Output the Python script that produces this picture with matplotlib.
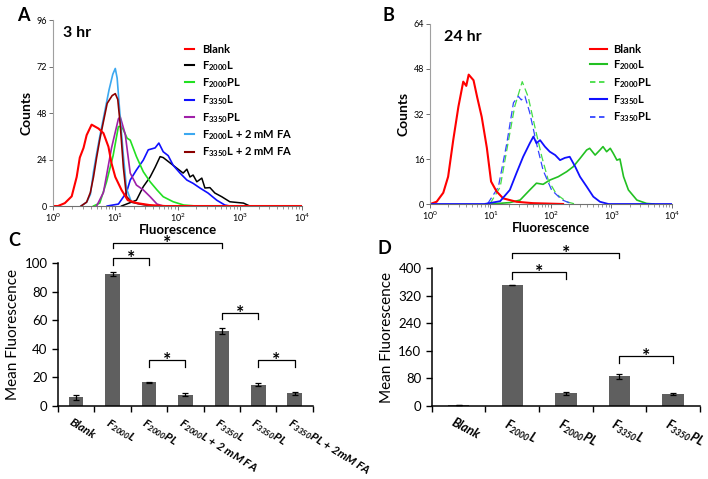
import numpy as np
import matplotlib.pyplot as plt
from matplotlib.lines import Line2D

plt.rcParams['font.family'] = ['Lato', 'DejaVu Sans']
plt.rcParams['mathtext.fontset'] = 'custom'
plt.rcParams['mathtext.rm'] = 'Lato'
plt.rcParams['mathtext.bf'] = 'Lato:bold'
plt.rcParams['mathtext.it'] = 'Lato:italic'
plt.rcParams['mathtext.bfit'] = 'Lato:italic:bold'

# ----------------------------
# Panel A data (3 hr), log10 fluorescence vs counts
# ----------------------------
a_blank_lx = [0, 0.08, 0.19, 0.30, 0.38, 0.43, 0.49, 0.54, 0.62, 0.73, 0.81, 0.89, 0.94, 1.00, 1.10, 1.20, 1.35, 1.55, 1.80, 4.0]
a_blank_y = [0, 0, 1.5, 5, 15, 25, 30, 36.6, 42, 40, 37.6, 30.6, 22, 15, 8.3, 3, 1.5, 0.5, 0, 0]

a_f2000l_lx = [1.10, 1.34, 1.45, 1.56, 1.64, 1.72, 1.77, 1.85, 1.93, 2.01, 2.09, 2.15, 2.20, 2.25, 2.31, 2.39, 2.44,
               2.52, 2.60, 2.71, 2.84, 3.06, 3.16]
a_f2000l_y = [0, 3, 10, 15, 20, 25.5, 25, 23, 21, 19, 17, 19, 15, 16, 12.5, 14.4, 9.3, 9.5, 6.7, 4.8, 2.2, 1.5, 0]

a_f2000pl_lx = [0.65, 0.75, 0.86, 0.965, 1.05, 1.08, 1.12, 1.19, 1.24, 1.34, 1.45, 1.56, 1.67, 1.77, 1.93, 2.10, 2.30]
a_f2000pl_y = [0, 1.5, 12.5, 26, 41, 41, 40, 35, 34, 25.5, 17.7, 12.5, 8.3, 4.8, 2.2, 0.5, 0]

a_f3350l_lx = [0.87, 1.05, 1.18, 1.24, 1.34, 1.45, 1.53, 1.64, 1.70, 1.77, 1.85, 1.93, 2.04, 2.15, 2.25, 2.36, 2.49,
               2.63, 2.76, 2.84]
a_f3350l_y = [0, 1, 7, 13.4, 18.6, 23.7, 29, 30, 32.5, 28, 26, 21, 17, 13.4, 11.7, 9.3, 6.7, 3, 0.5, 0]

a_f3350pl_lx = [0.70, 0.81, 0.94, 1.05, 1.08, 1.16, 1.24, 1.34, 1.45, 1.56, 1.67, 1.77]
a_f3350pl_y = [0, 7, 30, 45, 46, 37, 17, 10.8, 8.3, 4.8, 1, 0]

a_f2000l_fa_lx = [0.45, 0.54, 0.60, 0.65, 0.70, 0.755, 0.82, 0.90, 0.96, 1.00, 1.03, 1.076, 1.13, 1.18, 1.26, 1.40, 1.60]
a_f2000l_fa_y = [0, 2, 6, 17.7, 27, 36.6, 47, 60, 68, 71, 66, 47, 26, 9, 2, 1, 0]

a_f3350l_fa_lx = [0.45, 0.54, 0.60, 0.65, 0.70, 0.755, 0.87, 0.95, 1.00, 1.04, 1.08, 1.13, 1.18, 1.26, 1.40, 1.60]
a_f3350l_fa_y = [0, 2, 7, 15, 25, 35, 53, 57, 58, 55, 42, 20, 5, 2, 1, 0]

# ----------------------------
# Panel B data (24 hr)
# ----------------------------
b_blank_lx = [0, 0.11, 0.22, 0.30, 0.385, 0.47, 0.55, 0.60, 0.64, 0.72, 0.78, 0.855, 0.94, 1.01, 1.10, 1.21, 1.43, 1.7, 2.2]
b_blank_y = [0, 0.8, 4, 9.7, 22.8, 34.6, 43.5, 42, 46, 44, 38, 31, 20, 8, 4.5, 2, 0.8, 0.3, 0]

b_f2000l_lx = [1.0, 1.32, 1.49, 1.65, 1.76, 1.87, 1.98, 2.12, 2.26, 2.37, 2.48, 2.59, 2.64, 2.73, 2.81, 2.86, 2.92,
               2.98, 3.03, 3.09, 3.14, 3.20, 3.28, 3.42, 3.58, 3.70]
b_f2000l_y = [0, 0.5, 1.4, 5, 7.4, 7, 8.5, 9.7, 11.5, 13.3, 16.2, 19.2, 19.8, 17.4, 19.2, 20.4, 18.6,
              19.8, 18, 15.6, 16, 9.7, 5, 1.4, 0.2, 0]

b_f2000pl_lx = [0.99, 1.16, 1.29, 1.40, 1.525, 1.625, 1.735, 1.85, 1.955, 2.09, 2.26, 2.4]
b_f2000pl_y = [0, 6, 21.6, 34.6, 43.5, 38, 27.3, 16.7, 8.5, 3.5, 0.8, 0]

b_f3350l_lx = [0, 0.9, 1.16, 1.32, 1.43, 1.54, 1.65, 1.71, 1.76, 1.82, 1.90, 1.98, 2.07, 2.15, 2.23, 2.31, 2.40,
               2.48, 2.59, 2.70, 2.81, 2.95, 4.0]
b_f3350l_y = [0, 0, 1, 5, 11, 16.8, 21.6, 24, 21.6, 22.7, 20.4, 18.6, 17.4, 15.6, 16.4, 16.8, 13.3,
              9.7, 6.2, 2.6, 0.8, 0, 0]

b_f3350pl_lx = [0.95, 1.13, 1.27, 1.38, 1.46, 1.51, 1.57, 1.65, 1.76, 1.87, 2.01, 2.18, 2.35]
b_f3350pl_y = [0, 6, 21.6, 36, 38.3, 37, 38.3, 32.4, 21.6, 12, 5, 1.5, 0]

# ----------------------------
# Panel C / D bar data
# ----------------------------
c_labels = ['Blank', r'F$_{\mathbfit{2000}}$L', r'F$_{\mathbfit{2000}}$PL', r'F$_{\mathbfit{2000}}$L + 2 mM FA',
            r'F$_{\mathbfit{3350}}$L', r'F$_{\mathbfit{3350}}$PL', r'F$_{\mathbfit{3350}}$PL + 2mM FA']
c_means = [6, 92.5, 16.5, 8, 52.5, 14.8, 8.8]
c_err = [1.5, 1.5, 0.5, 1.0, 1.8, 1.0, 1.0]

d_labels = ['Blank', r'F$_{\mathbfit{2000}}$L', r'F$_{\mathbfit{2000}}$PL', r'F$_{\mathbfit{3350}}$L', r'F$_{\mathbfit{3350}}$PL']
d_means = [2, 350, 37, 86, 35]
d_err = [0.5, 0, 4, 8, 2]


def hist_axes(ax, ymax, step):
    ax.set_xscale('log')
    ax.set_xlim(1, 1e4)
    ax.set_ylim(0, ymax)
    ax.set_yticks(np.arange(0, ymax + 1, step))
    for s in ['top', 'right']:
        ax.spines[s].set_visible(False)
    ax.spines['left'].set_color('#a0a0a0')
    ax.spines['bottom'].set_color('#707070')
    ax.tick_params(axis='both', which='major', labelsize=6.5, length=3, width=0.7, pad=1, color='#707070')
    ax.tick_params(axis='x', which='minor', length=2, width=0.5, color='#707070')
    ax.set_xlabel('Fluorescence', fontsize=9.5, fontweight='bold', labelpad=0)
    ax.set_ylabel('Counts', fontsize=10, fontweight='bold', labelpad=3)


def plot_log(ax, lx, y, **kw):
    ax.plot(10 ** np.array(lx), y, **kw)


def bracket(ax, x1, x2, ytop, yleg):
    ax.plot([x1, x1, x2, x2], [yleg, ytop, ytop, yleg], color='black', lw=0.9, clip_on=False)
    ax.annotate('*', xy=((x1 + x2) / 2, ytop), xytext=(0, -4.5), textcoords='offset points',
                ha='center', va='baseline', fontsize=14, fontweight='bold', annotation_clip=False)


def bar_axes(ax, labels, means, err, ymax, step, rot, fs):
    n = len(labels)
    x = np.arange(n)
    ax.bar(x, means, width=0.4, color='#5f5f5f', zorder=2)
    ax.errorbar(x, means, yerr=err, fmt='none', ecolor='black', elinewidth=0.9, capsize=2.5, capthick=0.9, zorder=3)
    ax.set_xlim(-0.5, n - 0.5)
    ax.set_ylim(0, ymax)
    ax.set_yticks(np.arange(0, ymax + 1, step))
    ax.set_xticks(np.arange(-0.5, n, 1))
    ax.set_xticklabels([])
    for s in ['top', 'right']:
        ax.spines[s].set_visible(False)
    ax.spines['left'].set_linewidth(1.1)
    ax.spines['bottom'].set_linewidth(1.1)
    ax.tick_params(axis='both', direction='out', length=4, width=1, labelsize=9.5)
    ax.set_ylabel('Mean Fluorescence', fontsize=11, labelpad=3)
    for i, lab in enumerate(labels):
        ax.text(i - 0.07, -0.075, lab, transform=ax.get_xaxis_transform(), rotation=rot,
                rotation_mode='anchor', ha='left', va='top', fontsize=fs,
                fontweight='bold', fontstyle='italic')


fig = plt.figure(figsize=(7.08, 4.79), dpi=100)

# ----------------------------
# Panel A
# ----------------------------
axA = fig.add_axes([0.0749, 0.5699, 0.3517, 0.3883])
plot_log(axA, a_f2000l_lx, a_f2000l_y, color='black', lw=1.1)
plot_log(axA, a_f3350l_lx, a_f3350l_y, color='#1010ff', lw=1.2)
plot_log(axA, a_f2000pl_lx, a_f2000pl_y, color='#22e022', lw=1.2)
plot_log(axA, a_f3350pl_lx, a_f3350pl_y, color='#a020a8', lw=1.2)
plot_log(axA, a_f2000l_fa_lx, a_f2000l_fa_y, color='#3ca8f0', lw=1.2)
plot_log(axA, a_f3350l_fa_lx, a_f3350l_fa_y, color='#8b0000', lw=1.2)
plot_log(axA, a_blank_lx, a_blank_y, color='#ff0000', lw=1.5)
hist_axes(axA, 96, 24)
axA.text(0.04, 0.93, '3 hr', transform=axA.transAxes, fontsize=11.5, fontweight='bold', va='center')

a_handles = [Line2D([], [], color=c, lw=1.5) for c in
             ['#ff0000', 'black', '#22e022', '#1010ff', '#a020a8', '#3ca8f0', '#8b0000']]
a_names = ['Blank', r'F$_{\mathbf{2000}}$L', r'F$_{\mathbf{2000}}$PL', r'F$_{\mathbf{3350}}$L',
           r'F$_{\mathbf{3350}}$PL', r'F$_{\mathbf{2000}}$L + 2 mM FA', r'F$_{\mathbf{3350}}$L + 2 mM FA']
axA.legend(a_handles, a_names, loc='upper left', bbox_to_anchor=(0.53, 0.87), frameon=False,
           prop={'size': 8, 'weight': 'bold'}, handlelength=0.8, handletextpad=0.7,
           labelspacing=0.32, borderaxespad=0, borderpad=0)

# ----------------------------
# Panel B
# ----------------------------
axB = fig.add_axes([0.6073, 0.5741, 0.3418, 0.3758])
plot_log(axB, b_f2000l_lx, b_f2000l_y, color='#22c022', lw=1.2)
plot_log(axB, b_f2000pl_lx, b_f2000pl_y, color='#44dd44', lw=0.9, ls=(0, (6, 3)))
plot_log(axB, b_f3350pl_lx, b_f3350pl_y, color='#3344ff', lw=0.9, ls=(0, (6, 3)))
plot_log(axB, b_blank_lx, b_blank_y, color='#ff0000', lw=1.5)
plot_log(axB, b_f3350l_lx, b_f3350l_y, color='#1010ff', lw=1.3)
hist_axes(axB, 64, 16)
axB.text(0.06, 0.93, '24 hr', transform=axB.transAxes, fontsize=11.5, fontweight='bold', va='center')

b_handles = [Line2D([], [], color='#ff0000', lw=1.5), Line2D([], [], color='#22c022', lw=1.5),
             Line2D([], [], color='#44dd44', lw=1.3, ls=(0, (3, 2))),
             Line2D([], [], color='#1010ff', lw=1.5), Line2D([], [], color='#3344ff', lw=1.3, ls=(0, (3, 2)))]
b_names = ['Blank', r'F$_{\mathbf{2000}}$L', r'F$_{\mathbf{2000}}$PL', r'F$_{\mathbf{3350}}$L', r'F$_{\mathbf{3350}}$PL']
axB.legend(b_handles, b_names, loc='upper left', bbox_to_anchor=(0.66, 0.89), frameon=False,
           prop={'size': 8, 'weight': 'bold'}, handlelength=1.6, handletextpad=0.5,
           labelspacing=0.32, borderaxespad=0, borderpad=0)

# ----------------------------
# Panel C
# ----------------------------
axC = fig.add_axes([0.0819, 0.1524, 0.360, 0.2985])
bar_axes(axC, c_labels, c_means, c_err, 100, 20, -32, 8.5)
bracket(axC, 1, 4, 114, 110.5)
bracket(axC, 1, 2, 103.5, 98.6)
bracket(axC, 2, 3, 32.3, 27.5)
bracket(axC, 4, 5, 65, 60.5)
bracket(axC, 5, 6, 32, 27.5)

# ----------------------------
# Panel D
# ----------------------------
axD = fig.add_axes([0.610, 0.1524, 0.3785, 0.288])
bar_axes(axD, d_labels, d_means, d_err, 400, 80, -28, 9)
bracket(axD, 1, 3, 443, 428)
bracket(axD, 1, 2, 389, 367)
bracket(axD, 3, 4, 145, 124)

for txt, x, y in [('A', 0.024, 0.985), ('B', 0.540, 0.985), ('C', 0.012, 0.515), ('D', 0.533, 0.50)]:
    fig.text(x, y, txt, fontsize=13, fontweight='bold', va='top', ha='left')

fig.savefig('out.png', dpi=100)
